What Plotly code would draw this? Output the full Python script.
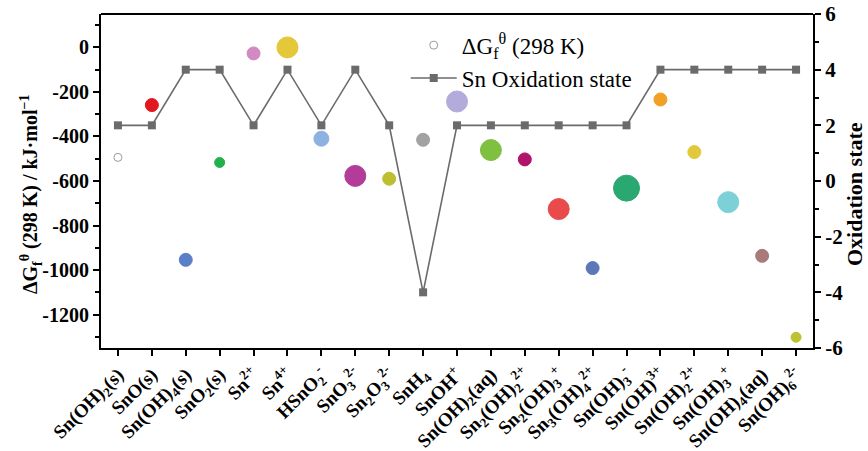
import plotly.graph_objects as go

species = [
    "Sn(OH)<sub>2</sub>(s)", "SnO(s)", "Sn(OH)<sub>4</sub>(s)", "SnO<sub>2</sub>(s)",
    "Sn<sup>2+</sup>", "Sn<sup>4+</sup>", "HSnO<sub>2</sub><sup>-</sup>",
    "SnO<sub>3</sub><sup>2-</sup>", "Sn<sub>2</sub>O<sub>3</sub><sup>2-</sup>", "SnH<sub>4</sub>",
    "SnOH<sup>+</sup>", "Sn(OH)<sub>2</sub>(aq)", "Sn<sub>2</sub>(OH)<sub>2</sub><sup>2+</sup>",
    "Sn<sub>2</sub>(OH)<sub>3</sub><sup>+</sup>", "Sn<sub>3</sub>(OH)<sub>4</sub><sup>2+</sup>",
    "Sn(OH)<sub>3</sub><sup>-</sup>", "Sn(OH)<sup>3+</sup>", "Sn(OH)<sub>2</sub><sup>2+</sup>",
    "Sn(OH)<sub>3</sub><sup>+</sup>", "Sn(OH)<sub>4</sub>(aq)", "Sn(OH)<sub>6</sub><sup>2-</sup>",
]
delta_g = [-494, -259, -954, -517, -27, 0, -410, -577, -590, -415,
           -243, -461, -503, -726, -991, -632, -234, -470, -695, -936, -1302]
ox_state = [2, 2, 4, 4, 2, 4, 2, 4, 2, -4, 2, 2, 2, 2, 2, 2, 4, 4, 4, 4, 4]

left_ticks = [0, -200, -400, -600, -800, -1000, -1200]
right_ticks = [6, 4, 2, 0, -2, -4, -6]

# styles
bubble_colors = ["#ffffff", "#e3171f", "#5b7ec8", "#22b04a", "#d38ac0", "#e5c73a",
                 "#8db2e2", "#b23c98", "#bebe32", "#a2a2a2", "#b3abd9", "#80c040",
                 "#b0126c", "#e94a4a", "#5c78b8", "#2aa872", "#f2a126", "#e2c93a",
                 "#7dd0d5", "#a97a7a", "#bdc232"]
bubble_sizes = [8, 13, 13, 10, 13, 21, 15, 21, 13, 13, 21, 21, 13, 21, 13, 26, 13, 13, 21, 13, 10]
outline_colors = ["#9a9a9a"] + bubble_colors[1:]

x_idx = list(range(len(species)))
serif = "Liberation Serif, Times New Roman, serif"

fig = go.Figure()
fig.add_trace(go.Scatter(
    x=x_idx, y=delta_g, mode="markers", showlegend=False,
    marker=dict(size=bubble_sizes, color=bubble_colors, opacity=1,
                line=dict(color=outline_colors, width=1)),
))
# legend entry for the bubbles (no data points)
fig.add_trace(go.Scatter(
    x=[None], y=[None], mode="markers",
    name="ΔG<sub>f</sub><sup>θ</sup> (298 K)",
    marker=dict(size=8, color="white", line=dict(color="#9a9a9a", width=1)),
))
fig.add_trace(go.Scatter(
    x=x_idx, y=ox_state, yaxis="y2", mode="lines+markers",
    name="Sn Oxidation state",
    line=dict(color="#6b6b6b", width=1.6),
    marker=dict(symbol="square", size=8, color="#6b6b6b"),
))

axis_common = dict(showline=True, linecolor="black", linewidth=2, ticks="outside",
                   ticklen=6, tickwidth=2, tickcolor="black", showgrid=False,
                   zeroline=False, automargin=False)

fig.update_layout(
    width=868, height=451,
    margin=dict(l=101, r=55, t=14, b=103),
    plot_bgcolor="white", paper_bgcolor="white",
    font=dict(family=serif, color="black"),
    showlegend=True,
    legend=dict(x=0.428, y=0.971, xanchor="left", yanchor="top",
                bgcolor="rgba(0,0,0,0)", font=dict(size=23, family=serif),
                tracegroupgap=0, itemwidth=46),
    xaxis=dict(**axis_common, range=[-0.5, 20.5], tickmode="array",
               tickvals=x_idx, ticktext=[f"<b>{s}</b>" for s in species], tickangle=-45,
               tickfont=dict(size=19, family=serif), mirror=False),
    yaxis=dict(**axis_common, range=[-1350, 150], tickmode="array",
               tickvals=left_ticks, ticktext=[str(v) for v in left_ticks],
               tickfont=dict(size=20, family=serif, weight="bold"),
               minor=dict(dtick=100, tick0=0, ticks="outside", ticklen=4, tickwidth=2, tickcolor="black")),
    yaxis2=dict(**axis_common, overlaying="y", side="right", range=[-6, 6], tickmode="array",
                tickvals=right_ticks, ticktext=[str(v) for v in right_ticks],
                tickfont=dict(size=21, family=serif, weight="bold"),
                minor=dict(dtick=1, tick0=0, ticks="outside", ticklen=4, tickwidth=2, tickcolor="black")),
    annotations=[
        dict(text="<b>ΔG<sub>f</sub><sup>θ</sup> (298 K) / kJ·mol<sup>−1</sup></b>",
             xref="paper", yref="paper", x=-0.0983, y=0.461, textangle=-90,
             showarrow=False, font=dict(size=20, family=serif), xanchor="center", yanchor="middle"),
        dict(text="<b>Oxidation state</b>",
             xref="paper", yref="paper", x=1.0576, y=0.461, textangle=-90,
             showarrow=False, font=dict(size=22, family=serif), xanchor="center", yanchor="middle"),
    ],
)
# top border line
fig.add_shape(type="line", xref="paper", yref="paper", x0=0, x1=1, y0=1, y1=1,
              line=dict(color="black", width=2))

fig.write_html("out.html")
